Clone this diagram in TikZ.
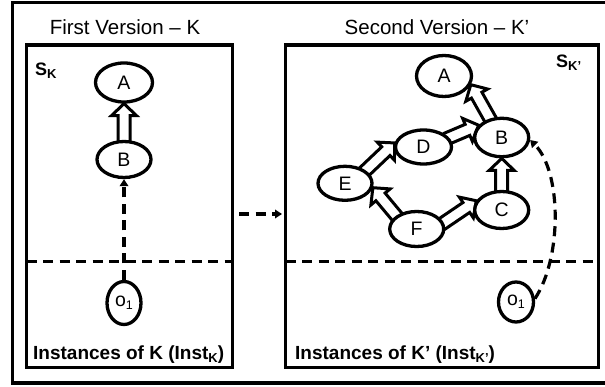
\documentclass[tikz,border=0pt]{standalone}
\usepackage{fontspec}
\setmainfont{Liberation Sans}
\usetikzlibrary{shapes.geometric,calc,arrows.meta,backgrounds}

% hollow (block) arrow from one node anchor to another
\newcommand\hollowarrow[2]{%
  \path (#1) -- (#2) coordinate[pos=0] (ha-s) coordinate[pos=1] (ha-e);
  \coordinate (ha-s0) at ($(ha-s)!-4pt!(ha-e)$);
  \coordinate (ha-b) at ($(ha-e)!12pt!(ha-s)$);
  \draw[hollowedge]
    ($(ha-s0)!6pt!90:(ha-e)$) -- ($(ha-b)!6pt!90:(ha-e)$) --
    ($(ha-b)!12.5pt!90:(ha-e)$) -- (ha-e) --
    ($(ha-b)!12.5pt!-90:(ha-e)$) -- ($(ha-b)!6pt!-90:(ha-e)$) --
    ($(ha-s0)!6pt!-90:(ha-e)$);
}

\begin{document}
\begin{tikzpicture}[x=1pt,y=-1pt,
  panel/.style={draw, line width=3.2pt, rectangle, inner sep=0pt},
  cls/.style={ellipse, draw, line width=3.3pt, fill=white, inner sep=0pt,
    font=\fontsize{19.5pt}{21pt}\selectfont},
  hollowedge/.style={draw, fill=white, line width=3pt, line join=miter},
  dasharrow/.style={line width=3.2pt, dash pattern=on 10pt off 6.5pt,
    -{Triangle[length=7pt,width=8.5pt]}},
  divider/.style={line width=3.2pt, dash pattern=on 10pt off 6.5pt},
  title/.style={anchor=base, inner sep=0pt, font=\fontsize{20.5pt}{24pt}\selectfont},
  boldlabel/.style={anchor=base west, inner sep=0pt,
    font=\fontsize{19pt}{22pt}\selectfont\bfseries},
  schemalabel/.style={anchor=base west, inner sep=0pt,
    font=\fontsize{18pt}{20pt}\selectfont\bfseries},
]
\useasboundingbox (0,0) rectangle (605,387);
\clip (0,0) rectangle (605,387);

% outer frame
\draw[line width=3.2pt] (12.5,2.5) rectangle (610,383);

% the two version panels
\node[panel, minimum width=206pt, minimum height=322.5pt] (P1) at (129.5,206.25) {};
\node[panel, minimum width=313pt, minimum height=322.5pt] (P2) at (442,206.25) {};

% titles
\node[title] (t1) at (125,35) {First Version – K};
\node[title] (t2) at (437,35) {Second Version – K’};

% schema labels
\node[schemalabel] (s1) at (35,76) {S\raisebox{-3pt}{\fontsize{13pt}{14pt}\selectfont K}};
\node[schemalabel] (s2) at (556,68) {S\raisebox{-3pt}{\fontsize{13pt}{14pt}\selectfont K’}};

% instance labels
\node[boldlabel] (i1) at (33,359) {Instances of K (Inst\raisebox{-3pt}{\fontsize{13pt}{14pt}\selectfont K})};
\node[boldlabel] (i2) at (295,359) {Instances of K’ (Inst\raisebox{-3pt}{\fontsize{13pt}{14pt}\selectfont K’})};

% schema / instance dividers
\coordinate (d1a) at (26.5,261.5);  \coordinate (d1b) at (232.5,261.5);
\coordinate (d2a) at (285.5,261.5); \coordinate (d2b) at (598.5,261.5);
\draw[divider] (d1a) -- (d1b);
\draw[divider] (d2a) -- (d2b);

% first version classes
\node[cls, minimum width=57pt, minimum height=39pt] (A1) at (124,82.5) {A};
\node[cls, minimum width=54pt, minimum height=36pt] (B1) at (124,159.5) {B};
\node[cls, minimum width=34pt, minimum height=43pt] (O1) at (124,303)
  {o\raisebox{-3pt}{\fontsize{12.5pt}{13pt}\selectfont 1}};

% second version classes
\node[cls, minimum width=55pt, minimum height=41pt] (A2) at (444,76) {A};
\node[cls, minimum width=54pt, minimum height=38.5pt] (B2) at (501.7,137.5) {B};
\node[cls, minimum width=56pt, minimum height=34pt] (D2) at (423.5,147) {D};
\node[cls, minimum width=54pt, minimum height=34pt] (E2) at (345,183.3) {E};
\node[cls, minimum width=54pt, minimum height=35pt] (F2) at (416.7,229) {F};
\node[cls, minimum width=54pt, minimum height=37pt] (C2) at (501.7,210) {C};
\node[cls, minimum width=35pt, minimum height=40pt] (O2) at (516,302)
  {o\raisebox{-3pt}{\fontsize{12.5pt}{13pt}\selectfont 1}};

% subclass arrows
\begin{scope}[on background layer]
  \hollowarrow{B1.north}{A1.south}
  \hollowarrow{B2.122}{A2.-18}
  \hollowarrow{D2.20}{B2.152}
  \hollowarrow{E2.32}{D2.172}
  \hollowarrow{F2.147}{E2.-9}
  \hollowarrow{F2.13}{C2.160}
  \hollowarrow{C2.north}{B2.south}
\end{scope}

% instance-of links
\draw[dasharrow] (O1.north) -- (B1.south);
\draw[dasharrow] (O2.10) .. controls (562,258) and (562,172) .. (B2.-5);

% evolution arrow
\coordinate (mA) at (239,214);
\coordinate (mB) at (282,214);
\draw[dasharrow] (mA) -- (mB);
\end{tikzpicture}
\end{document}
